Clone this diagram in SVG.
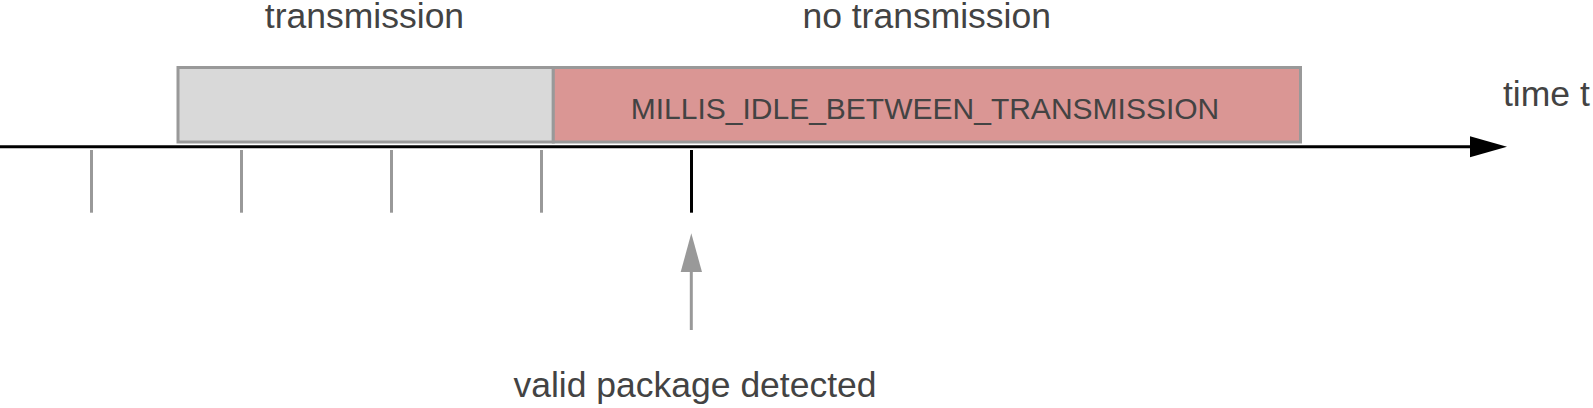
<svg xmlns="http://www.w3.org/2000/svg" width="1593" height="408" viewBox="0 0 1593 408">
<style>
  .lbl { font-family: "Liberation Sans", Arial, sans-serif; font-size: 35.5px; fill: #434343; }
  .inner { font-family: "Liberation Sans", Arial, sans-serif; font-size: 30px; fill: #434343; }
  .box { stroke: #999999; stroke-width: 3; }
  .tick { stroke: #999999; stroke-width: 3; }
</style>
<rect width="1593" height="408" fill="#ffffff"/>

<g id="label-transmission">
  <text class="lbl" x="364.5" y="28" text-anchor="middle">transmission</text>
</g>
<g id="label-no-transmission">
  <text class="lbl" x="926.7" y="28" text-anchor="middle">no transmission</text>
</g>

<g id="box-transmission">
  <rect class="box" x="178" y="67.5" width="375.3" height="74.5" fill="#d9d9d9"/>
</g>
<g id="box-idle">
  <rect class="box" x="553.3" y="67.5" width="747.2" height="74.5" fill="#da9694"/>
  <text class="inner" x="925" y="119" text-anchor="middle">MILLIS_IDLE_BETWEEN_TRANSMISSION</text>
</g>

<g id="label-time">
  <text class="lbl" x="1503" y="105.5">time t</text>
</g>

<g id="connectors">
  <line x1="0" y1="146.7" x2="1472" y2="146.7" stroke="#000000" stroke-width="3"/>
  <polygon points="1507,146.7 1470,136.2 1470,157.2" fill="#000000"/>
  <line class="tick" x1="91.5" y1="150" x2="91.5" y2="212.7"/>
  <line class="tick" x1="241.5" y1="150" x2="241.5" y2="212.7"/>
  <line class="tick" x1="391.5" y1="150" x2="391.5" y2="212.7"/>
  <line class="tick" x1="541.5" y1="150" x2="541.5" y2="212.7"/>
  <line x1="691.5" y1="150" x2="691.5" y2="212.7" stroke="#000000" stroke-width="3"/>
  <line x1="691.3" y1="330" x2="691.3" y2="270" stroke="#999999" stroke-width="3"/>
  <polygon points="691.3,233.3 680.7,272 702,272" fill="#999999"/>
</g>

<g id="label-valid">
  <text class="lbl" x="695" y="397" text-anchor="middle">valid package detected</text>
</g>
</svg>
